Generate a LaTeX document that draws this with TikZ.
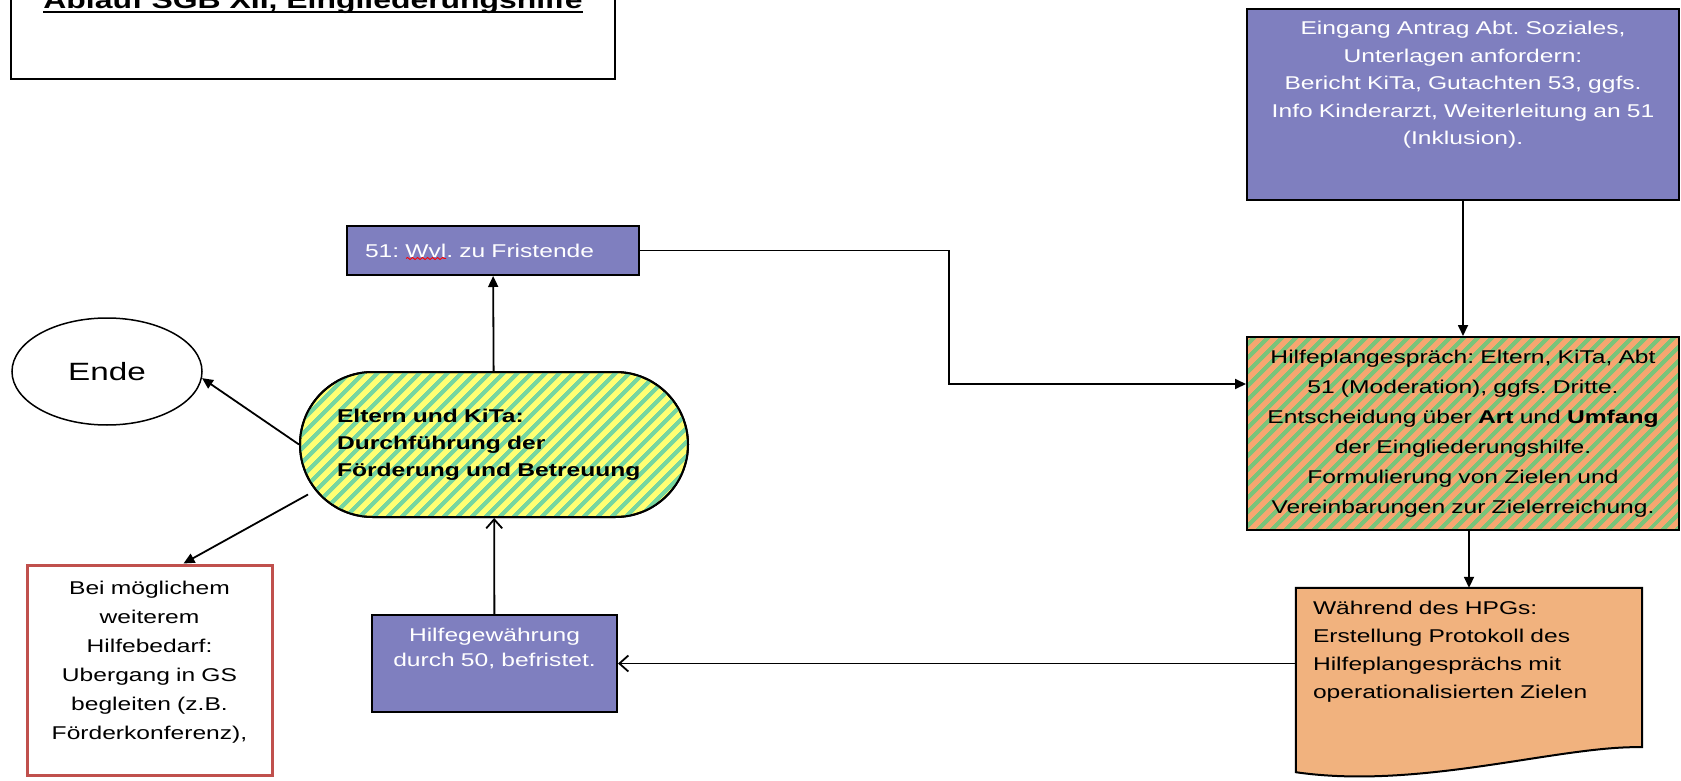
\documentclass[tikz,border=0pt]{standalone}
\usepackage{fontspec}
\setmainfont{Liberation Sans}[FakeStretch=1.33]
\usetikzlibrary{shapes.geometric, arrows.meta, patterns.meta, decorations.pathmorphing, backgrounds}

\definecolor{boxblue}{RGB}{127,127,191}
\definecolor{hpgorange}{RGB}{247,166,112}
\definecolor{hpggreen}{RGB}{122,196,122}
\definecolor{elternyellow}{RGB}{255,255,115}
\definecolor{elterngreen}{RGB}{118,214,160}
\definecolor{protorange}{RGB}{241,178,126}
\definecolor{beired}{RGB}{192,80,77}

\newcommand{\ulbold}[1]{\setbox0\hbox{#1}\rlap{\rule[-4pt]{\wd0}{2.2pt}}\box0}

\begin{document}
\frenchspacing
\begin{tikzpicture}[x=1pt, y=-1pt,
            every node/.style={font=\fontsize{18.5}{19.5}\selectfont},
            box/.style={draw, line width=2pt, inner xsep=4pt, inner ysep=5pt},
            bluebox/.style={box, fill=boxblue, text=white},
            stripes/.style 2 args={fill=#1, postaction={draw, line width=2pt, pattern={Lines[angle=45, distance=10.5pt, line width=4.5pt]}, pattern color=#2}},
            arr/.style={-{Triangle[length=11pt, width=10pt]}, line width=1.8pt},
            openarr/.style={-{Straight Barb[length=9pt, width=16pt, line width=1.8pt]}, line width=1.8pt}]

            \useasboundingbox (0,0) rectangle (1681,781);

            \node[box, line width=2pt, minimum width=604pt, text height=35pt, text depth=65pt, font=\fontsize{24}{28}\selectfont\bfseries] (titel) at (313,24) {\ulbold{Ablauf SGB XII, Eingliederungshilfe}};

            \node[bluebox, minimum width=432pt, text width=424pt, align=center, text height=21pt, text depth=160pt, font=\fontsize{18.5}{27.5}\selectfont] (antrag) at (1463,104.5) {Eingang Antrag Abt. Soziales,\\ Unterlagen anfordern:\\ Bericht KiTa, Gutachten 53, ggfs.\\ Info Kinderarzt, Weiterleitung an 51\\ (Inklusion).};
            \node[box, stripes={hpgorange}{hpggreen}, minimum width=432pt, minimum height=193pt, text width=424pt, align=center, font=\fontsize{18.5}{30}\selectfont] (hpg) at (1463,433.5) {Hilfeplangespräch: Eltern, KiTa, Abt\\ 51 (Moderation), ggfs. Dritte.\\ Entscheidung über \textbf{Art} und \textbf{Umfang}\\ der Eingliederungshilfe.\\ Formulierung von Zielen und\\ Vereinbarungen zur Zielerreichung.};
            \node[inner xsep=17pt, inner ysep=5pt, text width=312pt, align=left, text height=21.6pt, text depth=155.4pt, font=\fontsize{18.5}{28}\selectfont] (protokoll) at (1469,681.5) {Während des HPGs:\\ Erstellung Protokoll des\\ Hilfeplangesprächs mit\\ operationalisierten Zielen};

            \node[bluebox, minimum width=292pt, minimum height=49pt, text width=256pt, align=left] (frist) at (493,250.5) {51: Wvl. zu Fristende};
            \node[box, stripes={elternyellow}{elterngreen}, rounded corners=72.5pt, minimum width=388pt, minimum height=145pt, text width=314pt, align=left, font=\fontsize{18.5}{27}\selectfont\bfseries] (eltern) at (494,444.5) {Eltern und KiTa:\\ Durchführung der\\ Förderung und Betreuung};
            \node[bluebox, minimum width=245pt, text width=237pt, align=center, text height=21.6pt, text depth=65.4pt, font=\fontsize{18.5}{25}\selectfont] (gewaehrung) at (494.5,663.5) {Hilfegewährung\\ durch 50, befristet.};

            \node[draw, ellipse, line width=1.5pt, minimum width=190pt, minimum height=107pt, font=\fontsize{25}{30}\selectfont] (ende) at (107,371.5) {Ende};
            \node[draw=beired, line width=3pt, fill=white, minimum width=245pt, text width=237pt, align=center, inner xsep=4pt, inner ysep=5pt, text height=24.6pt, text depth=175.4pt, font=\fontsize{18.5}{29}\selectfont] (bedarf) at (149.5,670) {Bei möglichem\\ weiterem\\ Hilfebedarf:\\ Ubergang in GS\\ begleiten (z.B.\\ Förderkonferenz),};

            % Dokumentform mit welliger Unterkante
            \begin{scope}[on background layer]
                \draw[line width=2pt, fill=protorange] (protokoll.north west) -- (protokoll.north east) -- ([yshift=28pt]protokoll.south east) .. controls ([shift={(-82pt,30pt)}]protokoll.south east) and ([shift={(124pt,-15pt)}]protokoll.south west) .. ([yshift=3pt]protokoll.south west) -- cycle;
            \end{scope}

            \draw[red, line width=0.9pt, decorate, decoration={snake, amplitude=1pt, segment length=5pt}] ([shift={(60pt,-8pt)}]frist.west) -- ++(40,0);

            \draw[arr] (antrag) -- (hpg);
            \draw[arr] (frist.east) -- ++(309,0) |- ([yshift=49.5pt]hpg.west);
            \draw[arr] (hpg.south -| protokoll.north) -- (protokoll.north);
            \draw[openarr] (protokoll.west |- gewaehrung.east) -- (gewaehrung.east);
            \draw[openarr] (gewaehrung) -- (eltern);
            \draw[arr] (eltern) -- (frist);
            \draw[arr] (eltern.west) -- (ende.-4);
            \draw[arr] ([shift={(9pt,-50pt)}]eltern.west) -- ([xshift=34pt]bedarf.north);
        \end{tikzpicture}
\end{document}
